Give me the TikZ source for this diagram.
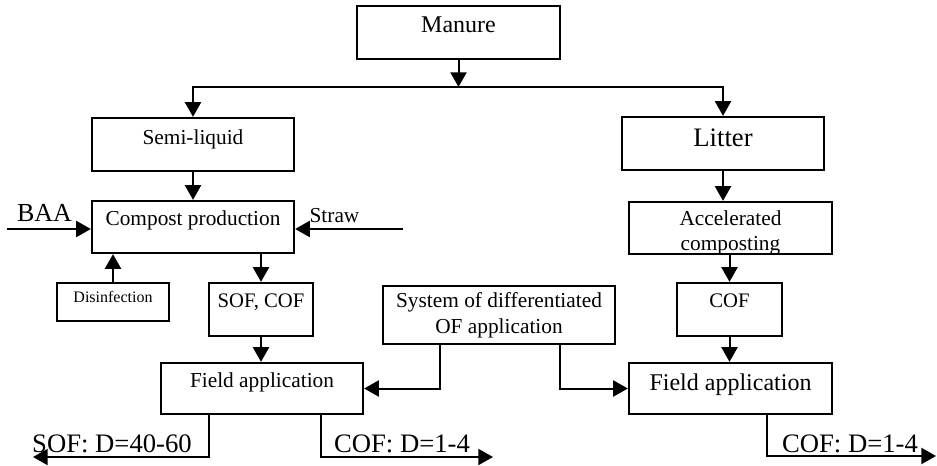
\documentclass[tikz,border=0pt]{standalone}
\usepackage{fontspec}
\setmainfont{Liberation Serif}
\usetikzlibrary{arrows.meta}
\usetikzlibrary{calc}

\tikzset{
  box/.style={draw, line width=1.7pt, inner sep=0pt, align=center},
  arr/.style={line width=1.5pt, -{Triangle[length=11pt,width=12pt]}},
}

\begin{document}
\begin{tikzpicture}[x=0.75pt,y=-0.75pt]
      \useasboundingbox (0,0) rectangle (937,466);

      %top boxes
      \node[box, minimum width=152.25pt, minimum height=39.75pt, font=\fontsize{18}{21}\selectfont, text height=12.2pt, text depth=12.75pt] (manure) at (458.5,32.5) {Manure};
      \node[box, minimum width=151.5pt, minimum height=39.75pt, font=\fontsize{16}{19}\selectfont, text height=10.9pt, text depth=11.25pt] (semi) at (193,144.5) {Semi-liquid};
      \node[box, minimum width=151.5pt, minimum height=39.75pt, font=\fontsize{20}{24}\selectfont, text height=13.6pt, text depth=8.7pt] (litter) at (723,143.5) {Litter};

      %left branch
      \node[box, minimum width=151.5pt, minimum height=39pt, font=\fontsize{16}{19}\selectfont, text height=10.9pt, text depth=13.5pt] (compost) at (193,227) {Compost production};
      \node[box, minimum width=84pt, minimum height=28.5pt, font=\fontsize{12}{14}\selectfont, text height=8.2pt, text depth=7.5pt] (disinf) at (113,302) {Disinfection};
      \node[box, minimum width=78pt, minimum height=39.75pt, font=\fontsize{15.5}{18}\selectfont, text height=10.5pt, text depth=14.25pt] (sofcof) at (261,309.5) {SOF, COF};
      \node[box, minimum width=151.5pt, minimum height=38.25pt, font=\fontsize{16}{19}\selectfont, text height=10.9pt, text depth=12.75pt] (fieldL) at (262,388.5) {Field application};

      %middle box
      \node[box, minimum width=174pt, minimum height=43.5pt, font=\fontsize{16}{19.5}\selectfont] (sys) at (499,315) {System of differentiated\\OF application};

      %right branch
      \node[box, minimum width=152.25pt, minimum height=39pt, font=\fontsize{16}{18.75}\selectfont, text height=33.5pt, text depth=0pt] (accel) at (730.5,228) {Accelerated\\composting};
      \node[box, minimum width=78.75pt, minimum height=39.75pt, font=\fontsize{15.5}{18}\selectfont, text height=10.5pt, text depth=14.25pt] (cof) at (729.5,309.5) {COF};
      \node[box, minimum width=152.25pt, minimum height=38.25pt, font=\fontsize{18}{21}\selectfont, text height=12.2pt, text depth=9.75pt] (fieldR) at (730.5,388.5) {Field application};

      %inputs and outputs
      \node[font=\fontsize{19.5}{23}\selectfont] (baa) at (44.5,213) {BAA};
      \node[font=\fontsize{16}{19}\selectfont] (straw) at (334.5,215.5) {Straw};
      \node[font=\fontsize{20}{24}\selectfont] (sofout) at (112,443.5) {SOF: D=40-60};
      \node[font=\fontsize{20}{24}\selectfont] (cofoutL) at (402,443.5) {COF: D=1-4};
      \node[font=\fontsize{20}{24}\selectfont] (cofoutR) at (850,443.5) {COF: D=1-4};

      \coordinate (fork) at (458.5,87);
      \coordinate (baain) at (7,229);
      \coordinate (strawin) at (403,229);
      \coordinate (endsof) at (33,457);
      \coordinate (endcofL) at (493,457);
      \coordinate (endcofR) at (936,456);

      % manure splits in two
      \draw[arr] (manure.south) -- (fork);
      \draw[arr] (fork) -| (semi.north);
      \draw[arr] (fork) -| (litter.north);

      % left chain
      \draw[arr] (semi.south) -- (compost.north);
      \draw[arr] (baain) -- (baain -| compost.west);
      \draw[arr] (strawin) -- (strawin -| compost.east);
      \draw[arr] (disinf.north) -- (disinf.north |- compost.south);
      \draw[arr] (sofcof |- compost.south) -- (sofcof.north);
      \draw[arr] (sofcof.south) -- (sofcof.south |- fieldL.north);

      % right chain
      \draw[arr] (litter.south) -- (litter.south |- accel.north);
      \draw[arr] (cof |- accel.south) -- (cof.north);
      \draw[arr] (cof.south) -- (cof.south |- fieldR.north);

      % system to both field boxes
      \draw[arr] ($(sys.south west)!0.25!(sys.south east)$) |- (fieldL.east);
      \draw[arr] ($(sys.south west)!0.76!(sys.south east)$) |- (fieldR.west);

      % doses out of the fields
      \draw[arr] ($(fieldL.south west)!0.24!(fieldL.south east)$) |- (endsof);
      \draw[arr] ($(fieldL.south west)!0.79!(fieldL.south east)$) |- (endcofL);
      \draw[arr] ($(fieldR.south west)!0.68!(fieldR.south east)$) |- (endcofR);
\end{tikzpicture}
\end{document}
